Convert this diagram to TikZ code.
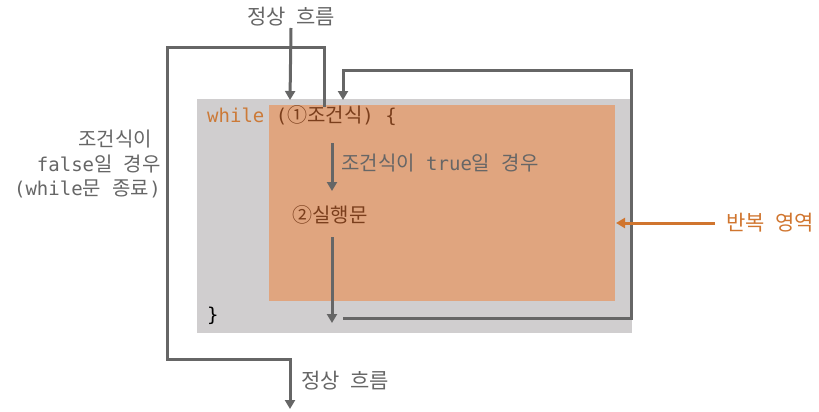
\documentclass[tikz,border=0pt]{standalone}
\usepackage{fontspec}
\newfontfamily\kofont{Noto Sans CJK KR}
\newfontfamily\codefont{DejaVu Sans Mono}
\usetikzlibrary{arrows.meta}
\definecolor{flowgray}{HTML}{666666}
\definecolor{boxgray}{HTML}{D0CECF}
\definecolor{looporange}{HTML}{E0A57F}
\definecolor{kworange}{HTML}{CC7A38}
\definecolor{codebrown}{HTML}{7A3E1C}
\definecolor{labelorange}{HTML}{D0752E}
\newcommand{\ko}[1]{{\kofont\fontsize{20}{24}\selectfont #1}}

\begin{document}
\begin{tikzpicture}[x=1pt,y=-1pt,line join=miter,
  flow/.style={draw=flowgray,line width=3pt,-{Triangle[width=10pt,length=9pt]}},
  label/.style={inner sep=0pt,text=flowgray,font=\kofont\fontsize{21}{24}\selectfont},
  code/.style={inner sep=0pt,font=\codefont\fontsize{19}{24.5}\selectfont}]
  \useasboundingbox (0,0) rectangle (819,412);
  %\draw (0,0) rectangle (819,412);
  \fill[boxgray] (197,99) rectangle (632,333);
  \fill[looporange] (269,105) rectangle (615,301);
  % texts
  \node[label] (normin) at (291,17) {정상\enspace 흐름};
  \node[label,anchor=west] (normout) at (301,381) {정상\enspace 흐름};
  \node[label,text=labelorange,anchor=west] (looplbl) at (726,223) {반복\enspace 영역};
  \node[code,anchor=base west] (cond) at (207,122)
    {\textcolor{kworange}{while} \textcolor{codebrown}{(\ko{①조건식}) \{}};
  \node[code,anchor=base west] (close) at (207,321) {\}};
  \node[code,anchor=base west,text=codebrown] (body) at (292,222) {\ko{②실행문}};
  \node[code,anchor=base west,text=flowgray] (truelbl) at (341,170)
    {\ko{조건식이} true\ko{일} \ko{경우}};
  \node[code,anchor=east,align=right,text=flowgray] (falselbl) at (161,164)
    {\ko{조건식이}\hspace*{9pt}\\false\ko{일} \ko{경우}\hspace*{8pt}\\(while\ko{문} \ko{종료})};
  % connectors
  \coordinate (intop) at (290,100);
  \coordinate (exit) at (324,107);
  \coordinate (exitbot) at (290,409);
  \coordinate (backtop) at (343,100);
  \coordinate (backbot) at (343,318);
  \coordinate (truetop) at (332,143);
  \coordinate (truebot) at (332,191);
  \coordinate (bodybot) at (332,237);
  \coordinate (bodyend) at (332,323);
  \coordinate (loopedge) at (616,223);
  \draw[flow] (normin.south |- 0,28) -- (intop);
  \draw[flow] (exit) |- (167,48) |- (290,359) -- (exitbot);
  \draw[flow] (backbot) -| (631,71) -| (backtop);
  \draw[flow] (truetop) -- (truebot);
  \draw[flow] (bodybot) -- (bodyend);
  \draw[flow,draw=labelorange] (looplbl.west) ++(-11,0) -- (loopedge);
\end{tikzpicture}
\end{document}
